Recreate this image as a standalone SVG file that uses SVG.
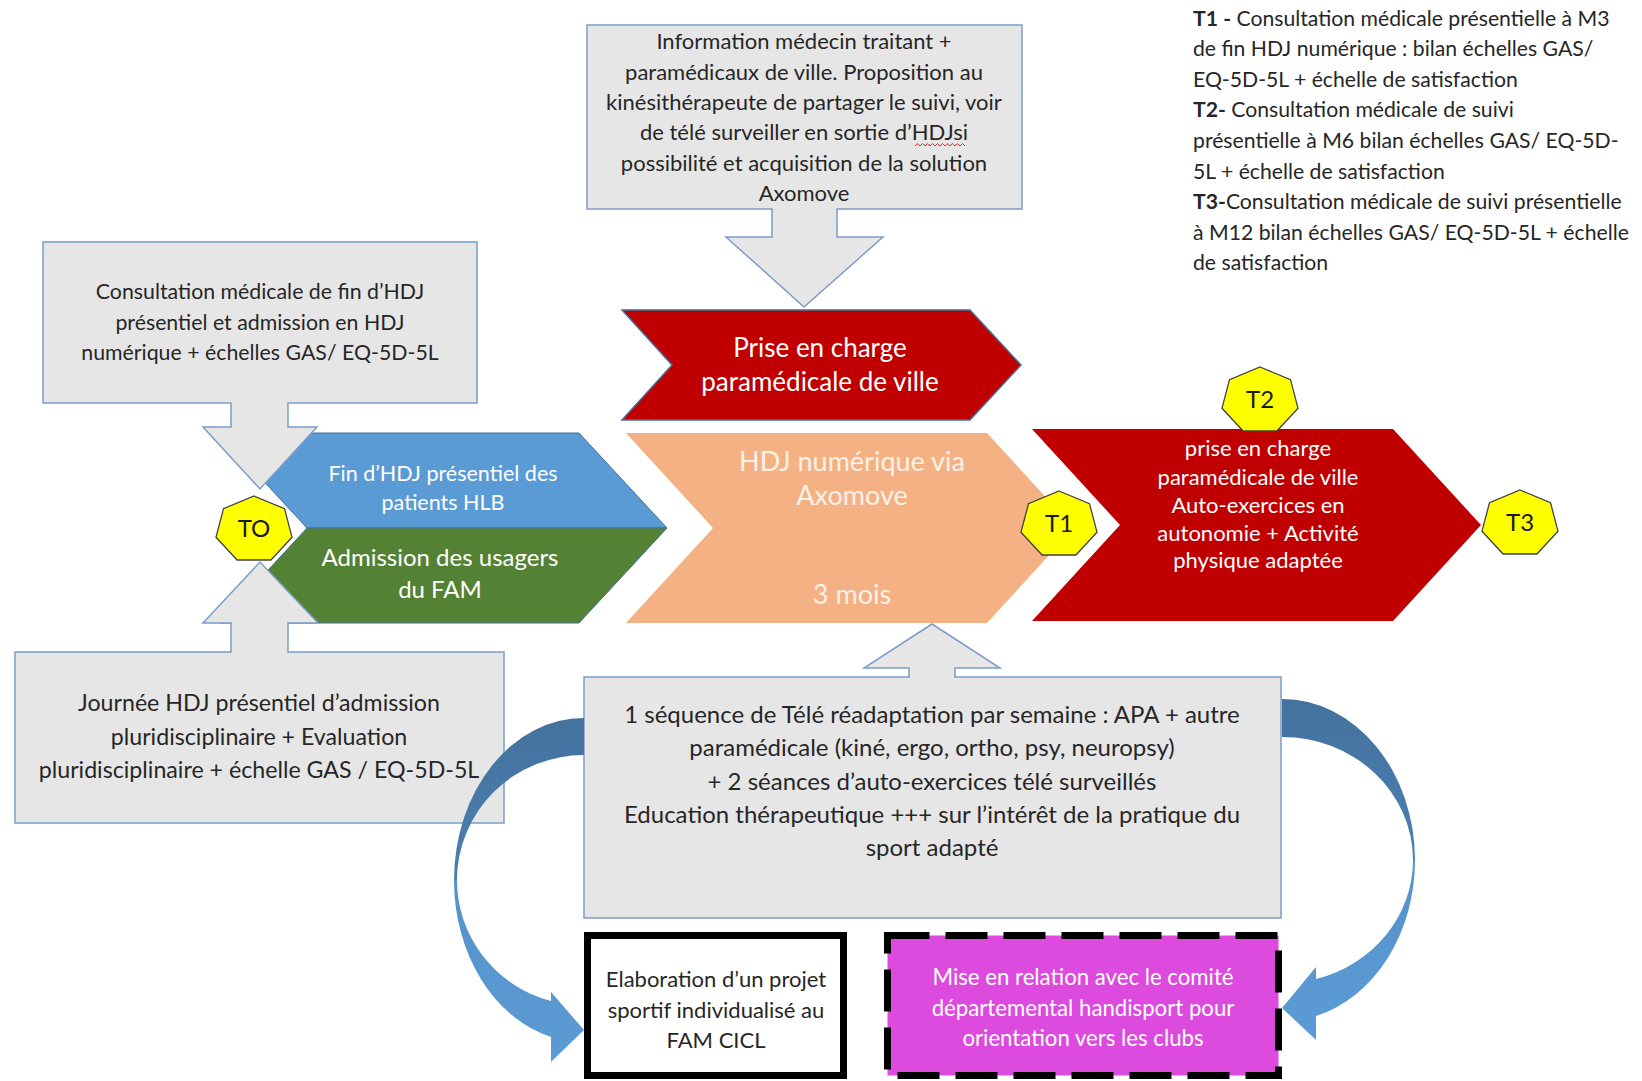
<svg xmlns="http://www.w3.org/2000/svg" width="1642" height="1081" viewBox="0 0 1642 1081">
<style>
text{font-family:Lato,"Open Sans","Liberation Sans",sans-serif;}
.box{fill:#e7e6e6;stroke:#7c9dc8;stroke-width:1.5;}
.t{fill:#262626;font-size:22px;text-anchor:middle;}
.t2{fill:#262626;font-size:21.3px;text-anchor:middle;}
.tb{fill:#262626;font-size:23.2px;text-anchor:middle;}
.ts{fill:#262626;font-size:24px;text-anchor:middle;}
.w{fill:#ffffff;text-anchor:middle;}
.leg{fill:#262626;font-size:21.2px;}
.hep{fill:#ffff00;stroke:#404040;stroke-width:1.3;}
.hl{fill:#1a1a1a;font-size:24px;text-anchor:middle;}
.chev{stroke:#41719c;stroke-width:1;}
</style>
<defs>
<linearGradient id="gDark" x1="0" y1="0" x2="0" y2="1"><stop offset="0" stop-color="#44729f"/><stop offset="1" stop-color="#4b7fb0"/></linearGradient>
<linearGradient id="gLight" x1="0" y1="0" x2="0" y2="1"><stop offset="0" stop-color="#5592c8"/><stop offset="1" stop-color="#5b9bd5"/></linearGradient>
</defs>

<g id="chevron-fin-hdj">
<path class="chev" fill="#5b9bd5" d="M219,433 H579 L667,528 H307 Z"/>
<text class="w" font-size="21.5" x="443" y="481">Fin d’HDJ présentiel des</text>
<text class="w" font-size="21.5" x="443" y="510">patients HLB</text>
</g>
<g id="chevron-admission-fam">
<path class="chev" fill="#548235" d="M307,528 H667 L579,623 H219 Z"/>
<text class="w" font-size="24" x="440" y="566">Admission des usagers</text>
<text class="w" font-size="24" x="440" y="598">du FAM</text>
</g>
<g id="chevron-prise-en-charge-ville">
<path fill="#c00000" stroke="#41719c" stroke-width="1.5" d="M622,310 H970 L1021,365 L970,420 H622 L672,365 Z"/>
<text class="w" font-size="26" x="820" y="357">Prise en charge</text>
<text class="w" font-size="26" x="820" y="391">paramédicale de ville</text>
</g>
<g id="chevron-hdj-numerique">
<path fill="#f4b183" d="M626,433 H987 L1074,528 L987,623 H626 L713,528 Z"/>
<text fill="#fdf1e8" font-size="27" text-anchor="middle" x="852" y="471">HDJ numérique via</text>
<text fill="#fdf1e8" font-size="27" text-anchor="middle" x="852" y="505">Axomove</text>
<text fill="#fdf1e8" font-size="27" text-anchor="middle" x="852" y="604">3 mois</text>
</g>
<g id="chevron-suivi-ville">
<path fill="#c00000" d="M1032,429 H1393 L1481,525 L1393,621 H1032 L1120,525 Z"/>
<text class="w" font-size="22" x="1258" y="456">prise en charge</text>
<text class="w" font-size="22" x="1258" y="485">paramédicale de ville</text>
<text class="w" font-size="22" x="1258" y="513">Auto-exercices en</text>
<text class="w" font-size="22" x="1258" y="541">autonomie + Activité</text>
<text class="w" font-size="22" x="1258" y="568">physique adaptée</text>
</g>

<g id="box-consultation-fin-hdj">
<path class="box" d="M43,242 H477 V403 H288 V427 H317 L260,489 L203,427 H231 V403 H43 Z"/>
<text class="t2" x="260" y="299">Consultation médicale de fin d’HDJ</text>
<text class="t2" x="260" y="330">présentiel et admission en HDJ</text>
<text class="t2" x="260" y="360">numérique + échelles GAS/ EQ-5D-5L</text>
</g>

<g id="box-information-medecin">
<path class="box" d="M587,25 H1022 V209 H837 V237 H883 L804,307 L726,237 H772 V209 H587 Z"/>
<text class="t" x="804" y="49">Information médecin traitant +</text>
<text class="t" x="804" y="80">paramédicaux de ville. Proposition au</text>
<text class="t" x="804" y="110">kinésithérapeute de partager le suivi, voir</text>
<text class="t" x="804" y="140">de télé surveiller en sortie d’HDJsi</text>
<path d="M915,146 l2.5,-2.5 l2.5,2.5 l2.5,-2.5 l2.5,2.5 l2.5,-2.5 l2.5,2.5 l2.5,-2.5 l2.5,2.5 l2.5,-2.5 l2.5,2.5 l2.5,-2.5 l2.5,2.5 l2.5,-2.5 l2.5,2.5 l2.5,-2.5 l2.5,2.5 l2.5,-2.5 l2.5,2.5 l2.5,-2.5 l2.5,2.5" fill="none" stroke="#e03030" stroke-width="1"/>
<text class="t" x="804" y="171">possibilité et acquisition de la solution</text>
<text class="t" x="804" y="201">Axomove</text>
</g>

<g id="box-journee-hdj">
<path class="box" d="M15,652 H231 V623 H203 L260,562 L318,623 H288 V652 H504 V823 H15 Z"/>
<text class="tb" x="259" y="711">Journée HDJ présentiel d’admission</text>
<text class="tb" x="259" y="745">pluridisciplinaire + Evaluation</text>
<text class="tb" x="259" y="778">pluridisciplinaire + échelle GAS / EQ-5D-5L</text>
</g>

<g id="box-tele-readaptation">
<path class="box" d="M584,677 H909 V668 H864 L932,624 L1000,668 H955 V677 H1281 V918 H584 Z"/>
<text class="ts" x="932" y="723">1 séquence de Télé réadaptation par semaine : APA + autre</text>
<text class="ts" x="932" y="756">paramédicale (kiné, ergo, ortho, psy, neuropsy)</text>
<text class="ts" x="932" y="790">+ 2 séances d’auto-exercices télé surveillés</text>
<text class="ts" x="932" y="823">Education thérapeutique +++ sur l’intérêt de la pratique du</text>
<text class="ts" x="932" y="856">sport adapté</text>
</g>

<g id="box-projet-sportif">
<rect x="587.5" y="935.5" width="256" height="140" fill="#ffffff" stroke="#000000" stroke-width="7"/>
<text class="t" x="716" y="987">Elaboration d’un projet</text>
<text class="t" x="716" y="1018">sportif individualisé au</text>
<text class="t" x="716" y="1048">FAM CICL</text>
</g>

<g id="box-handisport">
<rect x="887.5" y="935.5" width="391" height="140" fill="#dd4ade" stroke="#000000" stroke-width="7" stroke-dasharray="42 16"/>
<text class="w" font-size="22.2" x="1083" y="985">Mise en relation avec le comité</text>
<text class="w" font-size="22.2" x="1083" y="1016">départemental handisport pour</text>
<text class="w" font-size="22.2" x="1083" y="1046">orientation vers les clubs</text>
</g>

<g id="connectors">
<path fill="url(#gDark)" d="M584,718 A130,162 0 0 0 454,880 L457,880 A127,125 0 0 1 584,755 Z"/>
<path fill="url(#gLight)" d="M454,880 A130,162 0 0 0 551,1037 L551,1062 L584,1030 L551,992 L551,1001 A127,125 0 0 1 457,880 Z"/>
<path fill="url(#gDark)" d="M1282,699 A133,161 0 0 1 1415,860 L1413,860 A131,123 0 0 0 1282,737 Z"/>
<path fill="url(#gLight)" d="M1415,860 A133,161 0 0 1 1316,1016 L1316,1040 L1282,1008 L1316,967 L1316,979 A131,123 0 0 0 1413,860 Z"/>
</g>

<g id="milestone-T0">
<polygon class="hep" points="254,496 284.5,508.7 292,537.2 270.9,560 237.1,560 216,537.2 223.5,508.7"/>
<text class="hl" x="254" y="537">TO</text>
</g>
<g id="milestone-T1">
<polygon class="hep" points="1059,491 1089.5,503.7 1097,532.2 1075.9,555 1042.1,555 1021,532.2 1028.5,503.7"/>
<text class="hl" x="1059" y="532">T1</text>
</g>
<g id="milestone-T2">
<polygon class="hep" points="1260,367 1290.5,379.7 1298,408.2 1276.9,431 1243.1,431 1222,408.2 1229.5,379.7"/>
<text class="hl" x="1260" y="408">T2</text>
</g>
<g id="milestone-T3">
<polygon class="hep" points="1520,490 1550.5,502.7 1558,531.2 1536.9,554 1503.1,554 1482,531.2 1489.5,502.7"/>
<text class="hl" x="1520" y="531">T3</text>
</g>

<g id="legend">
<text class="leg" x="1193" y="25.5"><tspan font-weight="bold">T1 -</tspan> Consultation médicale présentielle à M3</text>
<text class="leg" x="1193" y="56.1">de fin HDJ numérique : bilan échelles GAS/</text>
<text class="leg" x="1193" y="86.7">EQ-5D-5L + échelle de satisfaction</text>
<text class="leg" x="1193" y="117.3"><tspan font-weight="bold">T2-</tspan> Consultation médicale de suivi</text>
<text class="leg" x="1193" y="147.9">présentielle à M6 bilan échelles GAS/ EQ-5D-</text>
<text class="leg" x="1193" y="178.5">5L + échelle de satisfaction</text>
<text class="leg" x="1193" y="209.1"><tspan font-weight="bold">T3-</tspan>Consultation médicale de suivi présentielle</text>
<text class="leg" x="1193" y="239.7">à M12 bilan échelles GAS/ EQ-5D-5L + échelle</text>
<text class="leg" x="1193" y="270.3">de satisfaction</text>
</g>
</svg>
